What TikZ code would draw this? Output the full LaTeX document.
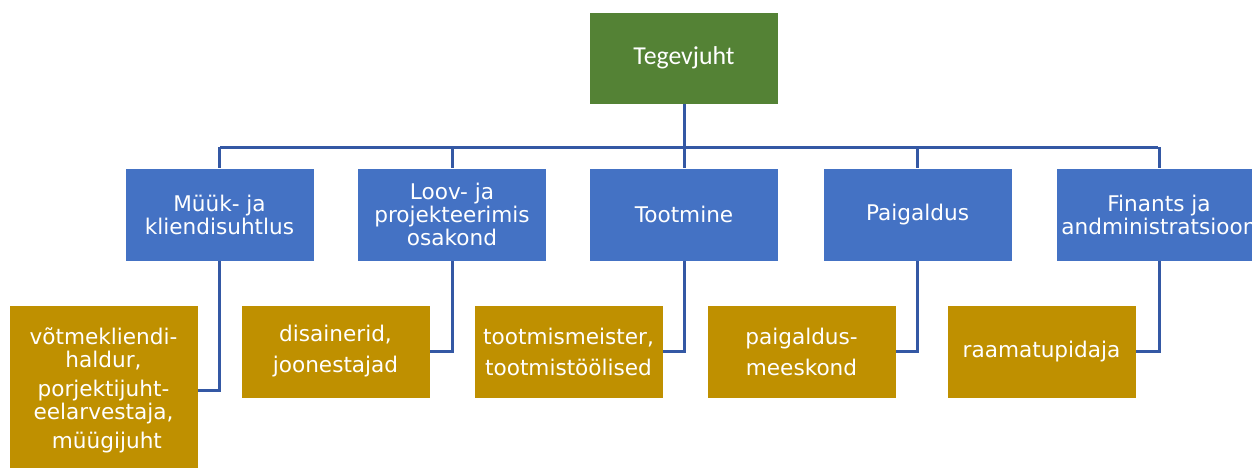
\documentclass[tikz,border=0pt]{standalone}
\usepackage{fontspec}
\setmainfont{DejaVu Sans}
\newfontfamily\calibri{Carlito}
\definecolor{ceoGreen}{HTML}{548235}
\definecolor{deptBlue}{HTML}{4472C4}
\definecolor{staffGold}{HTML}{BF9000}
\definecolor{lineBlue}{RGB}{52,88,164}
\tikzset{
  box/.style={draw=white, line width=0.6pt, text=white, align=center, inner sep=0pt,
    minimum width=189pt, minimum height=93pt, font=\fontsize{21.6}{23}\selectfont},
  ceobox/.style={box, fill=ceoGreen, minimum height=92pt, font=\calibri\fontsize{25.8}{28}\selectfont},
  deptbox/.style={box, fill=deptBlue},
  staffbox/.style={box, fill=staffGold},
  conn/.style={draw=lineBlue, line width=3pt}
}
\begin{document}
\begin{tikzpicture}[x=1pt,y=-1pt]
\useasboundingbox (0,0) rectangle (1252,468);
\clip (0,0) rectangle (1252,468);
% top
\node[ceobox] (ceo) at (684,58) {Tegevjuht};
% departments
\node[deptbox] (b1) at (219.5,214.5) {Müük- ja\\kliendisuhtlus};
\node[deptbox] (b2) at (452,214.5) {Loov- ja\\projekteerimis\\osakond};
\node[deptbox] (b3) at (684,214.5) {Tootmine};
\node[deptbox] (b4) at (917.5,214.5) {Paigaldus};
\node[deptbox, minimum width=206pt] (b5) at (1159,214.5) {Finants ja\\andministratsioon};
% staff
\node[staffbox, minimum height=170pt] (g1) at (103.5,390) {võtmekliendi-\\haldur,\\[6pt]porjektijuht-\\eelarvestaja,\\[6pt]\ müügijuht};
\node[staffbox] (g2) at (335.5,351.5) {disainerid,\\[8pt]joonestajad};
\node[staffbox] (g3) at (568.5,351.5) {tootmismeister,\\[8pt]tootmistöölised};
\node[staffbox] (g4) at (801.5,351.5) {paigaldus-\\[8pt]meeskond};
\node[staffbox] (g5) at (1041.5,351.5) {raamatupidaja};
% bus
\coordinate (busL) at (220,147);
\coordinate (busR) at (1158,147);
\draw[conn] (busL) -- (busR);
\draw[conn] (ceo.south) -- (ceo.south |- busL);
\foreach \d in {b1,b2,b3,b4,b5}{
  \draw[conn] (busL -| \d.north) -- (\d.north);
}
\foreach \d/\g in {b1/g1,b2/g2,b3/g3,b4/g4,b5/g5}{
  \draw[conn] (\d.south) |- (\g.east);
}
\end{tikzpicture}
\end{document}
